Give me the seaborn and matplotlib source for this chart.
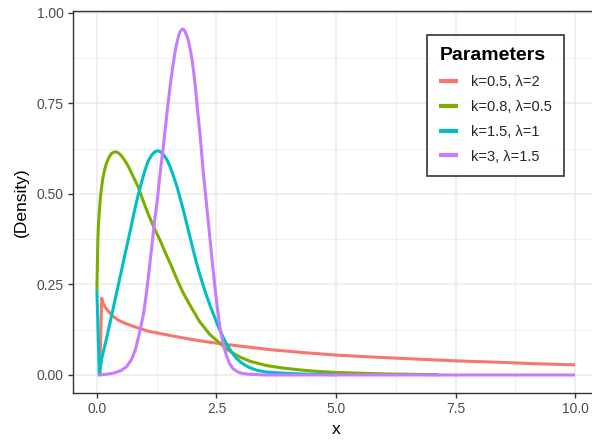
import matplotlib
matplotlib.use("Agg")
import matplotlib.pyplot as plt
import seaborn as sns
import pandas as pd
from matplotlib.ticker import MultipleLocator

# ---- data ----
labels = ["k=0.5, λ=2", "k=0.8, λ=0.5", "k=1.5, λ=1", "k=3, λ=1.5"]
colors = ["#F8766D", "#7CAE00", "#00BFC4", "#C77CFF"]

red_x = [0.06, 0.10, 0.13, 0.17, 0.23, 0.33, 0.44, 0.60, 0.79, 1.07, 1.3, 1.53, 1.9, 2.22, 2.6,
         2.92, 3.3, 3.62, 4.3, 5.0, 5.7, 6.34, 7.0, 7.52, 8.43, 9.2, 10.0]
red_y = [0.0, 0.212, 0.198, 0.188, 0.177, 0.163, 0.152, 0.142, 0.133, 0.121, 0.115, 0.109, 0.100,
         0.093, 0.086, 0.081, 0.075, 0.070, 0.062, 0.055, 0.050, 0.046, 0.042, 0.039, 0.035, 0.031, 0.028]

green_x = [0.0, 0.01, 0.02, 0.035, 0.05, 0.07, 0.09, 0.12, 0.16, 0.20, 0.25, 0.30, 0.35, 0.40, 0.45,
           0.50, 0.58, 0.66, 0.75, 0.86, 0.96, 1.07, 1.2, 1.32, 1.44, 1.56, 1.68, 1.81, 1.98, 2.15,
           2.36, 2.57, 2.71, 2.85, 3.0, 3.2, 3.4, 3.55, 3.9, 4.25, 4.6, 5.0, 5.5, 6.0, 6.5, 7.14]
green_y = [0.235, 0.31, 0.373, 0.42, 0.45, 0.485, 0.51, 0.54, 0.566, 0.585, 0.60, 0.611, 0.615, 0.616,
           0.613, 0.607, 0.593, 0.575, 0.55, 0.52, 0.483, 0.445, 0.405, 0.372, 0.335, 0.30, 0.262,
           0.225, 0.185, 0.147, 0.112, 0.088, 0.072, 0.060, 0.049, 0.038, 0.031, 0.026, 0.019, 0.014,
           0.010, 0.007, 0.005, 0.003, 0.002, 0.001]

cyan_x = [0.0, 0.05, 0.10, 0.20, 0.30, 0.40, 0.50, 0.60, 0.70, 0.78, 0.86, 0.93, 1.00, 1.07, 1.15,
          1.21, 1.27, 1.33, 1.40, 1.47, 1.53, 1.59, 1.65, 1.71, 1.77, 1.84, 1.90, 1.96, 2.01, 2.08,
          2.15, 2.22, 2.29, 2.36, 2.43, 2.50, 2.57, 2.64, 2.71, 2.78, 2.85, 2.92, 3.0, 3.1, 3.2,
          3.35, 3.55, 3.9, 4.25, 5.0]
cyan_y = [0.235, 0.0, 0.045, 0.10, 0.16, 0.22, 0.28, 0.34, 0.40, 0.45, 0.495, 0.53, 0.563, 0.59,
          0.608, 0.616, 0.619, 0.616, 0.607, 0.593, 0.575, 0.553, 0.53, 0.503, 0.474, 0.438, 0.406,
          0.374, 0.347, 0.311, 0.278, 0.248, 0.22, 0.194, 0.17, 0.146, 0.124, 0.104, 0.086, 0.071,
          0.057, 0.046, 0.036, 0.027, 0.02, 0.013, 0.008, 0.005, 0.003, 0.001]

purple_x = [0.03, 0.2, 0.34, 0.5, 0.62, 0.72, 0.80, 0.88, 0.97, 1.04, 1.11, 1.16, 1.21, 1.27, 1.32,
            1.38, 1.43, 1.48, 1.53, 1.58, 1.62, 1.66, 1.70, 1.74, 1.79, 1.83, 1.87, 1.91, 1.95,
            1.99, 2.02, 2.06, 2.09, 2.16, 2.22, 2.29, 2.36, 2.43, 2.50, 2.57, 2.64, 2.71, 2.78,
            2.85, 2.95, 3.06, 3.2, 3.5, 10.0]
purple_y = [0.0, 0.002, 0.005, 0.012, 0.023, 0.042, 0.068, 0.11, 0.165, 0.23, 0.31, 0.37, 0.43,
            0.49, 0.555, 0.62, 0.68, 0.74, 0.796, 0.845, 0.88, 0.91, 0.932, 0.948, 0.955, 0.952,
            0.94, 0.925, 0.90, 0.87, 0.84, 0.795, 0.75, 0.66, 0.566, 0.475, 0.382, 0.29, 0.205,
            0.133, 0.085, 0.053, 0.03, 0.017, 0.008, 0.004, 0.002, 0.0, 0.0]

series_x = [red_x, green_x, cyan_x, purple_x]
series_y = [red_y, green_y, cyan_y, purple_y]

rows = []
for lab, xs, ys in zip(labels, series_x, series_y):
    for a, b in zip(xs, ys):
        rows.append({"x": a, "y": b, "Parameters": lab})
df = pd.DataFrame(rows)

sns.set_theme(style="white")
plt.rcParams["font.family"] = ["Liberation Sans", "DejaVu Sans"]

fig = plt.figure(figsize=(5.92, 4.41), dpi=100)
ax = fig.add_axes([73 / 592, 48 / 441, 526 / 592, 382 / 441])

sns.lineplot(data=df, x="x", y="y", hue="Parameters", palette=colors,
             hue_order=labels, sort=False, estimator=None, units="Parameters",
             linewidth=2.2, ax=ax)
for ln in ax.get_lines():
    ln.set_solid_joinstyle("round")
    ln.set_solid_capstyle("butt")

ax.set_xlim(-0.5, 10.5)
ax.set_ylim(-0.0497, 1.0047)
ax.xaxis.set_minor_locator(MultipleLocator(1.25))
ax.yaxis.set_minor_locator(MultipleLocator(0.125))
ax.set_xticks([0, 2.5, 5, 7.5, 10])
ax.set_xticklabels(["0.0", "2.5", "5.0", "7.5", "10.0"])
ax.set_yticks([0, 0.25, 0.5, 0.75, 1.0])
ax.set_yticklabels(["0.00", "0.25", "0.50", "0.75", "1.00"])

ax.grid(True, which="major", color="#EBEBEB", linewidth=1.1)
ax.grid(True, which="minor", color="#EBEBEB", linewidth=0.55)
ax.set_axisbelow(True)
for s in ax.spines.values():
    s.set_color("#333333")
    s.set_linewidth(1.0)

ax.tick_params(axis="both", which="major", length=3.5, width=1.0, color="#333333",
               labelcolor="#4D4D4D", labelsize=10, pad=3, bottom=True, left=True)
ax.tick_params(axis="both", which="minor", length=0)

ax.set_xlabel("x", fontsize=12.5, color="black", labelpad=4)
ax.set_ylabel("(Density)", fontsize=12.5, color="black", labelpad=6)

handles, labs = ax.get_legend_handles_labels()
leg = ax.legend(handles, labs, title="Parameters", loc="upper left",
                bbox_to_anchor=(427 / 592, 1 - 35 / 441), bbox_transform=fig.transFigure,
                frameon=True, fancybox=False, edgecolor="black", fontsize=10.5,
                title_fontproperties={"weight": "bold", "size": 14},
                alignment="left", handlelength=1.3, handletextpad=0.85,
                labelspacing=0.74, borderpad=0.85, borderaxespad=0)
leg.get_frame().set_linewidth(1.2)
leg.get_title().set_color("black")
for h in leg.get_lines():
    h.set_linewidth(3.0)

fig.savefig("out.png", dpi=100)
